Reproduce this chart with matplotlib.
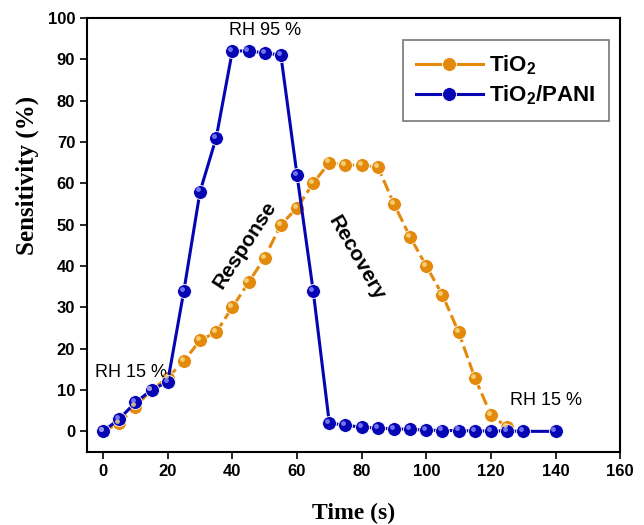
from matplotlib import pyplot as plt
from matplotlib import transforms
from matplotlib.lines import Line2D

# 数据
t_tio2 = [0, 5, 10, 15, 20, 25, 30, 35, 40, 45, 50, 55, 60, 65, 70, 75, 80, 85,
          90, 95, 100, 105, 110, 115, 120, 125]
s_tio2 = [0, 2, 6, 10, 13, 17, 22, 24, 30, 36, 42, 50, 54, 60, 65, 64.5, 64.3, 64,
          55, 47, 40, 33, 24, 13, 4, 1]

t_pani = [0, 5, 10, 15, 20, 25, 30, 35, 40, 45, 50, 55, 60, 65, 70, 75, 80, 85,
          90, 95, 100, 105, 110, 115, 120, 125, 130, 140]
s_pani = [0, 3, 7, 10, 12, 34, 58, 71, 92, 92, 91.5, 91, 62, 34, 2, 1.5, 1, 0.8,
          0.6, 0.5, 0.3, 0.2, 0.2, 0.1, 0.1, 0.1, 0, 0]

orange = '#e38a0c'
blue = '#0505b4'

plt.rcParams['mathtext.fontset'] = 'custom'
plt.rcParams['mathtext.rm'] = 'Liberation Sans:bold'
plt.rcParams['mathtext.default'] = 'rm'

fig = plt.figure(figsize=(6.44, 5.25), dpi=100)
ax = fig.add_axes([0.135, 0.139, 0.828, 0.827])

# 高光偏移
shift = ax.transData + transforms.ScaledTranslation(-1.5/72, 1.5/72, fig.dpi_scale_trans)

# TiO2 虚线
ax.plot(t_tio2, s_tio2, color=orange, lw=2.2, ls='--', dashes=(4, 1.5),
        marker='o', ms=10, mfc=orange, mec='white', mew=0.6, zorder=3)
ax.plot(t_tio2, s_tio2, ls='none', marker='o', ms=3.5, mfc='#f6e08a', mec='none',
        alpha=0.8, zorder=4, transform=shift)
# TiO2/PANI 实线
ax.plot(t_pani, s_pani, color=blue, lw=2.2, ls='-',
        marker='o', ms=10, mfc=blue, mec='white', mew=0.6, zorder=3)
ax.plot(t_pani, s_pani, ls='none', marker='o', ms=3.5, mfc='#8f8fff', mec='none',
        alpha=0.8, zorder=4, transform=shift)

ax.set_xlim(-5, 160)
ax.set_ylim(-5, 100)
ax.set_xticks(range(0, 161, 20))
ax.set_yticks(range(0, 101, 10))
ax.tick_params(direction='out', length=5, width=1.2, top=False, right=False)
for lab in ax.get_xticklabels() + ax.get_yticklabels():
    lab.set_fontfamily('Liberation Sans')
    lab.set_fontweight('bold')
    lab.set_fontsize(12)
for sp in ax.spines.values():
    sp.set_linewidth(1.5)

ax.set_xlabel('Time (s)', fontfamily='Liberation Serif', fontweight='bold',
              fontsize=17, labelpad=17)
ax.set_ylabel('Sensitivity (%)', fontfamily='Liberation Serif', fontweight='bold',
              fontsize=18)
ax.yaxis.set_label_coords(-0.09, 0.636)

tf = dict(fontfamily='Liberation Sans', fontsize=13)
ax.text(50, 97, 'RH 95 %', ha='center', va='center', **tf)
ax.text(8.5, 14.3, 'RH 15 %', ha='center', va='center', **tf)
ax.text(126, 7.5, 'RH 15 %', ha='left', va='center', **tf)
ax.text(44, 45, 'Response', ha='center', va='center', rotation=57, fontweight='bold',
        fontfamily='Liberation Sans', fontsize=15)
ax.text(78.4, 42, 'Recovery', ha='center', va='center', rotation=-60, fontweight='bold',
        fontfamily='Liberation Sans', fontsize=15)

handles = [Line2D([], [], color=orange, lw=2.2, marker='o', ms=10, mfc=orange, mec='white', mew=0.6),
           Line2D([], [], color=blue, lw=2.2, marker='o', ms=10, mfc=blue, mec='white', mew=0.6)]
leg = ax.legend(handles, ['TiO$_2$', 'TiO$_2$/PANI'], loc='upper right',
                bbox_to_anchor=(0.979, 0.949), borderaxespad=0, fancybox=False,
                handlelength=3.0, borderpad=0.6, labelspacing=0.3, handletextpad=0.3,
                prop={'family': 'Liberation Sans', 'weight': 'bold', 'size': 16})
leg.get_frame().set_edgecolor('#555555')
leg.get_frame().set_linewidth(1.2)

plt.savefig('out.png', dpi=100)
